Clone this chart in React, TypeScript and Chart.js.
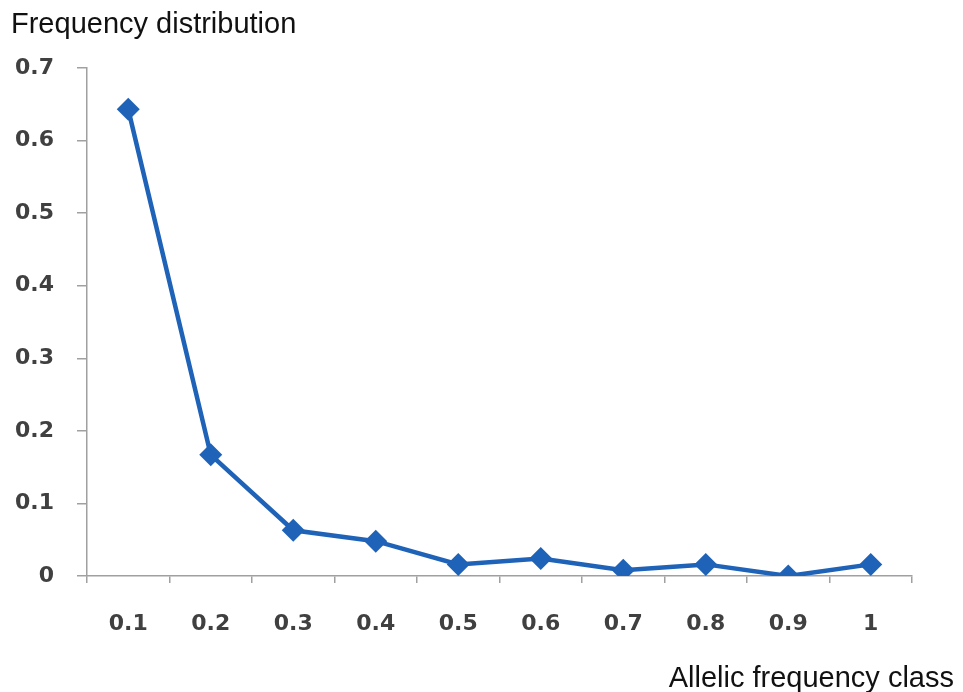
import React, { useEffect, useRef } from "react";
import { Chart, registerables } from "chart.js";

Chart.register(...registerables);

const categories = ["0.1", "0.2", "0.3", "0.4", "0.5", "0.6", "0.7", "0.8", "0.9", "1"];
const frequencies = [0.643, 0.167, 0.063, 0.048, 0.016, 0.024, 0.008, 0.016, 0, 0.016];
const yTitle = "Frequency distribution";
const xTitle = "Allelic frequency class";

const LINE_COLOR = "#1F63B8";
const AXIS_COLOR = "#A0A0A0";
const TICK_COLOR = "#404040";

export default function App() {
  const canvasRef = useRef<HTMLCanvasElement | null>(null);

  useEffect(() => {
    document.body.style.margin = "0";
    const canvas = canvasRef.current;
    if (!canvas) return;
    const chart = new Chart(canvas, {
      type: "line",
      data: {
        labels: categories,
        datasets: [
          {
            data: frequencies,
            borderColor: LINE_COLOR,
            backgroundColor: LINE_COLOR,
            borderWidth: 4.5,
            pointStyle: "rectRot",
            pointRadius: 11.5,
            pointHoverRadius: 11.5,
            pointBorderWidth: 0,
            tension: 0,
            fill: false,
          },
        ],
      },
      options: {
        animation: false,
        responsive: false,
        maintainAspectRatio: false,
        devicePixelRatio: 1,
        layout: { padding: { top: 68, right: 51, bottom: 0, left: 0 } },
        plugins: {
          legend: { display: false },
          title: { display: false },
          tooltip: { enabled: false },
        },
        scales: {
          x: {
            type: "category",
            offset: true,
            grid: {
              offset: true,
              drawOnChartArea: false,
              drawTicks: true,
              tickLength: 7,
              color: AXIS_COLOR,
              lineWidth: 1.5,
            },
            border: { display: true, color: AXIS_COLOR, width: 1.5 },
            ticks: {
              color: TICK_COLOR,
              padding: 28,
              maxRotation: 0,
              autoSkip: false,
              font: { family: "DejaVu Sans", size: 22, weight: "bold" },
            },
            afterFit: (scale: any) => {
              scale.height = 692 - 576;
            },
          },
          y: {
            min: 0,
            max: 0.7,
            grid: {
              drawOnChartArea: false,
              drawTicks: true,
              tickLength: 10,
              color: AXIS_COLOR,
              lineWidth: 1.5,
            },
            border: { display: true, color: AXIS_COLOR, width: 1.5 },
            ticks: {
              stepSize: 0.1,
              color: TICK_COLOR,
              padding: 23,
              font: { family: "DejaVu Sans", size: 22, weight: "bold" },
              callback: (v: any) => {
                const n = Math.round(Number(v) * 10) / 10;
                return n === 0 ? "0" : String(n);
              },
            },
            afterFit: (scale: any) => {
              scale.width = 87;
            },
          },
        },
      },
    });
    return () => chart.destroy();
  }, []);

  const titleStyle: React.CSSProperties = {
    position: "absolute",
    fontFamily: "'Liberation Sans', Arial, sans-serif",
    fontSize: 29,
    lineHeight: 1,
    color: "#111",
    whiteSpace: "nowrap",
  };

  return (
    <div style={{ position: "relative", width: 963, height: 692, background: "#fff", overflow: "hidden" }}>
      <canvas ref={canvasRef} width={963} height={692} style={{ position: "absolute", left: 0, top: 0, width: 963, height: 692 }} />
      <div style={{ ...titleStyle, left: 11, top: 9 }}>{yTitle}</div>
      <div style={{ ...titleStyle, right: 9, top: 663 }}>{xTitle}</div>
    </div>
  );
}
